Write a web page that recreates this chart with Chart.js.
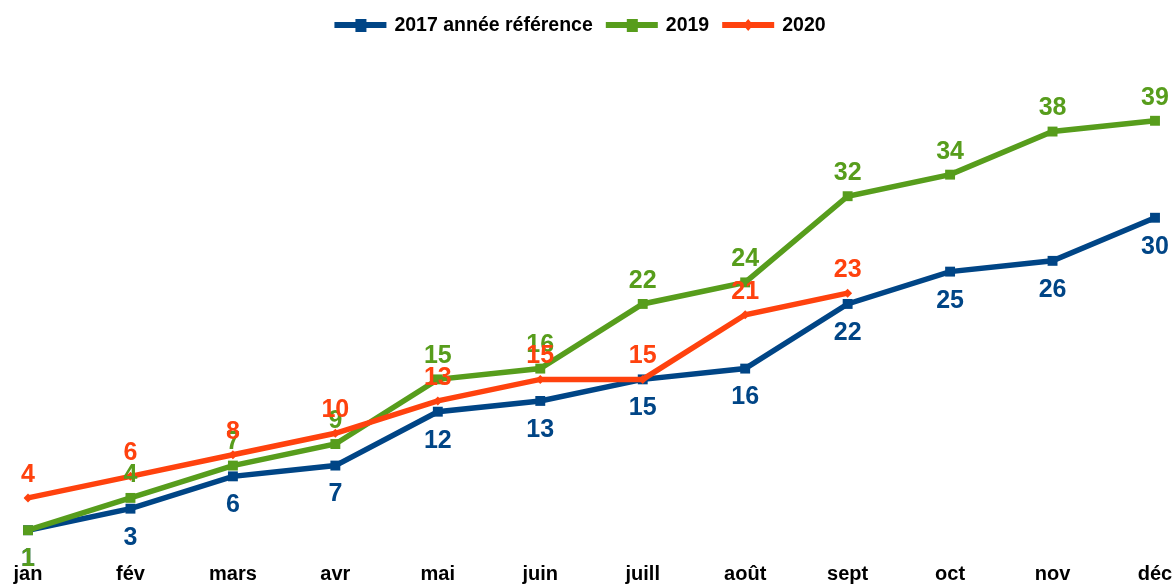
<!DOCTYPE html>
<html>
<head>
<meta charset="utf-8">
<script src="https://cdn.jsdelivr.net/npm/chart.js@4"></script>
<style>
    body { margin: 0; background: #ffffff; }
</style>
</head>
<body>
<canvas id="graphique" width="1175" height="586"></canvas>
<script>
const mois = ['jan', 'fév', 'mars', 'avr', 'mai', 'juin', 'juill', 'août', 'sept', 'oct', 'nov', 'déc'];
const valeurs2017 = [1, 3, 6, 7, 12, 13, 15, 16, 22, 25, 26, 30];
const valeurs2019 = [1, 4, 7, 9, 15, 16, 22, 24, 32, 34, 38, 39];
const valeurs2020 = [4, 6, 8, 10, 13, 15, 15, 21, 23, null, null, null];

const bleu = '#004586';
const vert = '#579d1c';
const orange = '#ff420e';
const police = '"Liberation Sans", Arial, sans-serif';

// etiquettes de valeur au-dessus / au-dessous des points
const etiquettes = {
    id: 'etiquettes',
    afterDatasetsDraw(chart) {
        const ctx = chart.ctx;
        ctx.save();
        ctx.font = 'bold 25px ' + police;
        ctx.textAlign = 'center';
        ctx.textBaseline = 'middle';
        // ordre de dessin : bleu, vert, orange
        [0, 1, 2].forEach((i) => {
            const ds = chart.data.datasets[i];
            const meta = chart.getDatasetMeta(i);
            ctx.fillStyle = ds.borderColor;
            meta.data.forEach((pt, j) => {
                const v = ds.data[j];
                if (v == null) return;
                let dessous = ds.etiquetteDessous;
                if (ds.exceptions && ds.exceptions.includes(j)) dessous = !dessous;
                const y = dessous ? pt.y + 29 : pt.y - 23;
                ctx.fillText(String(v), pt.x, y);
            });
        });
        ctx.restore();
    }
};

// legende dessinee a la main (trait + marqueur)
const legende = {
    id: 'legende',
    afterDraw(chart) {
        const ctx = chart.ctx;
        ctx.save();
        ctx.font = 'bold 19.5px ' + police;
        ctx.textBaseline = 'middle';
        const items = chart.data.datasets.map((ds) => ({
            texte: ds.label,
            couleur: ds.borderColor,
            style: ds.pointStyle,
            largeur: ctx.measureText(ds.label).width
        }));
        let total = 0;
        items.forEach((it, i) => {
            total += 52 + 8 + it.largeur + (i < items.length - 1 ? 13 : 0);
        });
        let x = 580 - total / 2;
        const y = 25;
        items.forEach((it) => {
            ctx.strokeStyle = it.couleur;
            ctx.fillStyle = it.couleur;
            ctx.lineWidth = 6;
            ctx.beginPath();
            ctx.moveTo(x, y);
            ctx.lineTo(x + 52, y);
            ctx.stroke();
            if (it.style === 'rectRot') {
                ctx.beginPath();
                ctx.moveTo(x + 26, y - 6);
                ctx.lineTo(x + 31, y);
                ctx.lineTo(x + 26, y + 6);
                ctx.lineTo(x + 21, y);
                ctx.closePath();
                ctx.fill();
            } else {
                ctx.fillRect(x + 21, y - 6, 11, 13);
            }
            ctx.fillStyle = '#000000';
            ctx.fillText(it.texte, x + 60, y + 1);
            x += 52 + 8 + it.largeur + 13;
        });
        ctx.restore();
    }
};

function dessinerGraphique() {
    const graphique = document.getElementById('graphique');
    new Chart(graphique, {
        type: 'line',
        data: {
            labels: mois,
            datasets: [{
                label: '2017 année référence',
                data: valeurs2017,
                borderColor: bleu,
                backgroundColor: bleu,
                borderWidth: 5.5,
                pointStyle: 'rect',
                pointRadius: 7,
                pointBorderWidth: 0,
                tension: 0,
                order: 3,
                etiquetteDessous: true
            }, {
                label: '2019',
                data: valeurs2019,
                borderColor: vert,
                backgroundColor: vert,
                borderWidth: 5.5,
                pointStyle: 'rect',
                pointRadius: 7,
                pointBorderWidth: 0,
                tension: 0,
                order: 2,
                etiquetteDessous: false,
                exceptions: [0]
            }, {
                label: '2020',
                data: valeurs2020,
                borderColor: orange,
                backgroundColor: orange,
                borderWidth: 5.5,
                pointStyle: 'rectRot',
                pointRadius: 4.5,
                pointBorderWidth: 0,
                tension: 0,
                order: 1,
                spanGaps: false,
                etiquetteDessous: false
            }]
        },
        options: {
            responsive: false,
            animation: false,
            layout: {
                padding: { top: 110, left: 28, right: 20, bottom: 0 }
            },
            scales: {
                x: {
                    offset: false,
                    grid: { display: false },
                    border: { display: false },
                    ticks: {
                        color: '#000000',
                        padding: 13,
                        maxRotation: 0,
                        font: { family: police, size: 20, weight: 'bold' }
                    },
                    afterFit(scale) {
                        scale.height = 45;
                        scale.paddingLeft = 0;
                        scale.paddingRight = 0;
                    }
                },
                y: {
                    display: false,
                    min: 0,
                    max: 40
                }
            },
            plugins: {
                legend: { display: false },
                tooltip: { enabled: false }
            }
        },
        plugins: [etiquettes, legende]
    });
}

window.onload = () => {
    dessinerGraphique();
}
</script>
</body>
</html>
